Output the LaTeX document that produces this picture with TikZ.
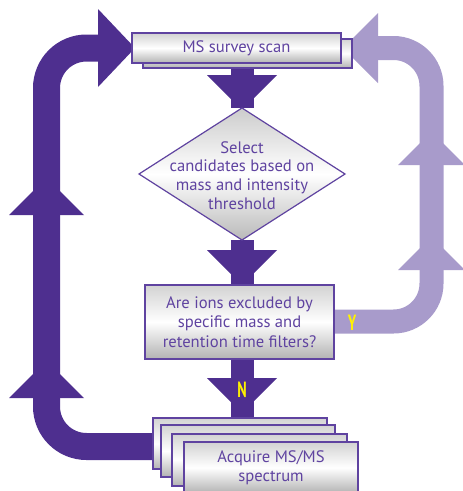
\documentclass[tikz,border=0pt]{standalone}
\usepackage{fontspec}
\setmainfont{PT Sans}
\definecolor{dpurple}{HTML}{4E2F8F}
\definecolor{lpurple}{HTML}{A89BCB}
\definecolor{tpurple}{HTML}{5F43A0}
\definecolor{ylw}{HTML}{FFF200}
\begin{document}
\begin{tikzpicture}[x=1pt,y=-1pt,
  box/.style={draw=tpurple, line width=1.2pt, top color=gray!35, bottom color=gray!60, middle color=white,
    text=tpurple, inner sep=0pt, align=center, font=\fontsize{16.6}{19.5}\selectfont},
  dfat/.style={draw=dpurple, line width=27pt, rounded corners=40pt},
  lfat/.style={draw=lpurple, line width=24pt, rounded corners=38pt},
  dshaft/.style={draw=dpurple, line width=23pt},
  dhead/.style={fill=dpurple},
  lhead/.style={fill=lpurple},
  yn/.style={text=ylw, font=\fontsize{22}{22}\bfseries}
]
\useasboundingbox (0,0) rectangle (463,491);

% named anchor points
\coordinate (ltop) at (46.5,48);
\coordinate (lbot) at (46.5,446.5);
\coordinate (rtop) at (431.5,48);
\coordinate (rbot) at (431.5,321.5);

% ---- left dark loop ----
\draw[dfat] (160,446.5) -- (lbot) -- (ltop) -- (110,48);
\path[dhead] (98,9) -- (135,48) -- (98,87) -- cycle;
\path[dhead] (9,215) -- (46.5,177.5) -- (84,215) -- cycle;
\path[dhead] (9,398) -- (46.5,360.5) -- (84,398) -- cycle;

% ---- right light loop ----
\draw[lfat] (325,321.5) -- (rbot) -- (rtop) -- (370,48);
\path[lhead] (378,13) -- (343,48) -- (378,83) -- cycle;
\path[lhead] (398,165) -- (431.5,131.5) -- (465,165) -- cycle;
\path[lhead] (398,270) -- (431.5,236.5) -- (465,270) -- cycle;

% ---- central arrows ----
\coordinate (dtop) at (242,108);
\coordinate (dbot) at (242,240);
\draw[dshaft] (242,60) -- (dtop);
\path[dhead] (207,75) -- (277,75) -- (242,110) -- cycle;
\draw[dshaft] (dbot) -- (242,290);
\path[dhead] (207,250) -- (277,250) -- (242,285) -- cycle;
\draw[dshaft] (242,355) -- (242,422);
\path[dhead] (207,378) -- (277,378) -- (242,413) -- cycle;

% ---- MS survey scan ----
\node[box, minimum width=209pt, minimum height=29pt] (scanback) at (247.5,53.5) {};
\node[box, minimum width=209pt, minimum height=30pt] (scan) at (236.5,48) {MS survey scan};

% ---- diamond ----
\path[draw=tpurple, line width=1.2pt, top color=gray!40, bottom color=gray!55, middle color=white]
  (dtop) -- (345,174) -- (dbot) -- (139,174) -- cycle;
\node[text=tpurple, align=center, font=\fontsize{16.6}{18.7}\selectfont] (select) at (242,175.5)
  {Select\\candidates based on\\mass and intensity\\threshold};

% ---- exclusion question ----
\node[box, minimum width=189pt, minimum height=74pt] (excl) at (239.5,322)
  {Are ions excluded by\\specific mass and\\retention time filters?};
\node[yn] (ylab) at (352,323) {\scalebox{0.65}[1]{Y}};
\node[yn] (nlab) at (242,390) {\scalebox{0.65}[1]{N}};

% ---- acquire stack ----
\node[box, minimum width=174pt, minimum height=51pt] (acq1) at (240,443.5) {};
\node[box, minimum width=174pt, minimum height=52pt] (acq2) at (248,451) {};
\node[box, minimum width=175pt, minimum height=52pt] (acq3) at (259.5,460) {};
\node[box, minimum width=174pt, minimum height=51pt] (acq4) at (271,467.5)
  {Acquire MS/MS\\spectrum};
\end{tikzpicture}
\end{document}
